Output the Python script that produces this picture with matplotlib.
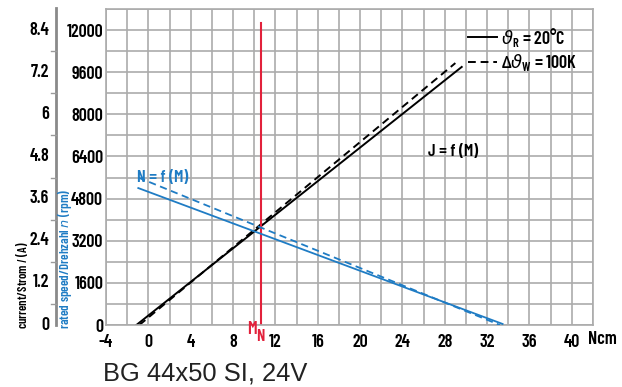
import matplotlib
matplotlib.use("Agg")
import matplotlib.pyplot as plt
from matplotlib.lines import Line2D
from matplotlib import font_manager as fm
import numpy as np

# ---------------- data ----------------
torque_ticks = [-4, 0, 4, 8, 12, 16, 20, 24, 28, 32, 36, 40]
current_ticks = [0, 1.2, 2.4, 3.6, 4.8, 6.0, 7.2, 8.4]
current_labels = ["0", "1.2", "2.4", "3.6", "4.8", "6", "7.2", "8.4"]
speed_ticks = [0, 1600, 3200, 4800, 6400, 8000, 9600, 11200]
speed_labels = ["0", "1600", "3200", "4800", "6400", "8000", "9600", "12000"]

# current J = f(M)  (Ncm -> A)
torque_j20 = [-1.13, 29.6]
current_j20 = [0.0, 7.35]
torque_j100 = [-0.85, 29.0]
current_j100 = [0.0, 7.46]

# speed N = f(M)  (Ncm -> rpm)
torque_n20 = [-0.95, 33.46]
speed_n20 = [5200, 40]
torque_n100 = [-0.95, 33.2]
speed_n100 = [5600, 0]

rated_torque = 10.6


# ---------------- style ----------------
def pick(cands):
    for c in cands:
        try:
            fm.findfont(fm.FontProperties(family=c), fallback_to_default=False)
            return c
        except ValueError:
            continue
    return "DejaVu Sans"


COND = pick(["Barlow Condensed", "Saira ExtraCondensed", "Sofia Sans Condensed"])
FONT = [COND, "DejaVu Sans"]
plt.rcParams["font.family"] = FONT
plt.rcParams["mathtext.fontset"] = "dejavusans"
WT = 600
FS = 13
BLUE = "#1f7cc4"
RED = "#e2213b"
GRID = "#ababab"

W, H = 622, 387
fig = plt.figure(figsize=(W / 100, H / 100), dpi=100)
left, right, bottom, top = 106 / W, 593 / W, 1 - 325 / H, 1 - 9 / H
ax = fig.add_axes([left, bottom, right - left, top - bottom])
ax.set_xlim(-4, 42)
ax.set_ylim(0, 9.0)

# grid
ax.set_xticks(np.arange(-4, 42.1, 2), minor=True)
ax.set_yticks(np.arange(0, 9.01, 0.6), minor=True)
ax.grid(which="both", color=GRID, lw=1.2)
for s in ax.spines.values():
    s.set_color(GRID)
    s.set_linewidth(1.2)
ax.tick_params(which="both", length=0)

ax.set_xticks(torque_ticks, labels=[str(t) for t in torque_ticks])
ax.tick_params(axis="x", pad=6.5, labelsize=FS)
for lab in ax.get_xticklabels():
    lab.set_fontweight(WT)
ax.set_yticks(current_ticks, labels=[])

# speed axis (twin) on left
ax2 = ax.twinx()
ax2.set_ylim(0, 12000)
ax2.yaxis.tick_left()
ax2.set_yticks(speed_ticks, labels=speed_labels)
ax2.tick_params(length=0, pad=2, labelsize=FS)
for lab in ax2.get_yticklabels():
    lab.set_fontweight(WT)
for s in ax2.spines.values():
    s.set_visible(False)

# current labels (outer)
for v, lab in zip(current_ticks, current_labels):
    ax.text(-0.117, v, lab, transform=ax.get_yaxis_transform(), ha="right",
            va="center", fontsize=FS, fontweight=WT)

# outer axis line with half-step ticks
x_line = 56 / W
fig.add_artist(Line2D([x_line, x_line], [1 - 8 / H, 1 - 325 / H],
                      transform=fig.transFigure, color="#8a8a8a", lw=2))
for v in np.arange(0.6, 8.41, 1.2):
    yf = bottom + (top - bottom) * v / 9.0
    fig.add_artist(Line2D([51 / W, x_line], [yf, yf], transform=fig.transFigure,
                          color="#9a9a9a", lw=1))

# curves
DASH = (0, (4, 2.5))
ax.plot(torque_j20, current_j20, color="black", lw=1.4)
ax.plot(torque_j100, current_j100, color="black", lw=1.4, ls=DASH)
ax2.plot(torque_n20, speed_n20, color=BLUE, lw=1.3)
ax2.plot(torque_n100, speed_n100, color=BLUE, lw=1.3, ls=DASH)
ax.plot([rated_torque, rated_torque], [0, 8.6], color=RED, lw=1.5)

# annotations
ax.text(-1.04, 4.19, "N = f (M)", color=BLUE, fontsize=12.5, fontweight=WT,
        ha="left", va="center")
ax.text(26.45, 4.93, "J = f (M)", color="black", fontsize=12.5, fontweight=WT,
        ha="left", va="center")

# legend
ax.add_line(Line2D([30.2, 32.96], [8.2, 8.2], color="black", lw=1.4))
ax.add_line(Line2D([30.2, 32.96], [7.49, 7.49], color="black", lw=1.4, ls=DASH))
ax.text(33.3, 8.2, "$\\vartheta_\\mathregular{R}$ = 20°C", fontsize=FS, fontweight=WT,
        ha="left", va="center")
ax.text(33.3, 7.49, "Δ$\\vartheta_\\mathregular{W}$ = 100K", fontsize=FS, fontweight=WT,
        ha="left", va="center")

# M_N label
ax.text(9.82, -0.13, "M", color=RED, fontsize=FS, fontweight=WT,
        ha="center", va="center", clip_on=False)
ax.text(10.58, -0.33, "N", color=RED, fontsize=12, fontweight=WT,
        ha="center", va="center", clip_on=False)

# unit
ax.text(588 / W, 1 - 340 / H, "Ncm", transform=fig.transFigure, fontsize=FS,
        fontweight=WT, ha="left", va="center")

# axis titles
fig.text(22 / W, 1 - 329 / H, "current/Strom $\\mathit{I}$ (A)", rotation=90,
         fontsize=9, fontweight=WT, ha="center", va="bottom")
fig.text(65 / W, 1 - 329 / H, "rated speed/Drehzahl $\\mathit{n}$ (rpm)", rotation=90,
         fontsize=9.3, fontweight=WT, color=BLUE, ha="center", va="bottom")

# title
fig.text(103 / W, 1 - 373 / H, "BG 44x50 SI, 24V", fontsize=18.4,
         family=["Liberation Sans", "DejaVu Sans"], color="#222222",
         ha="left", va="center")

fig.savefig("out.png", dpi=100)
